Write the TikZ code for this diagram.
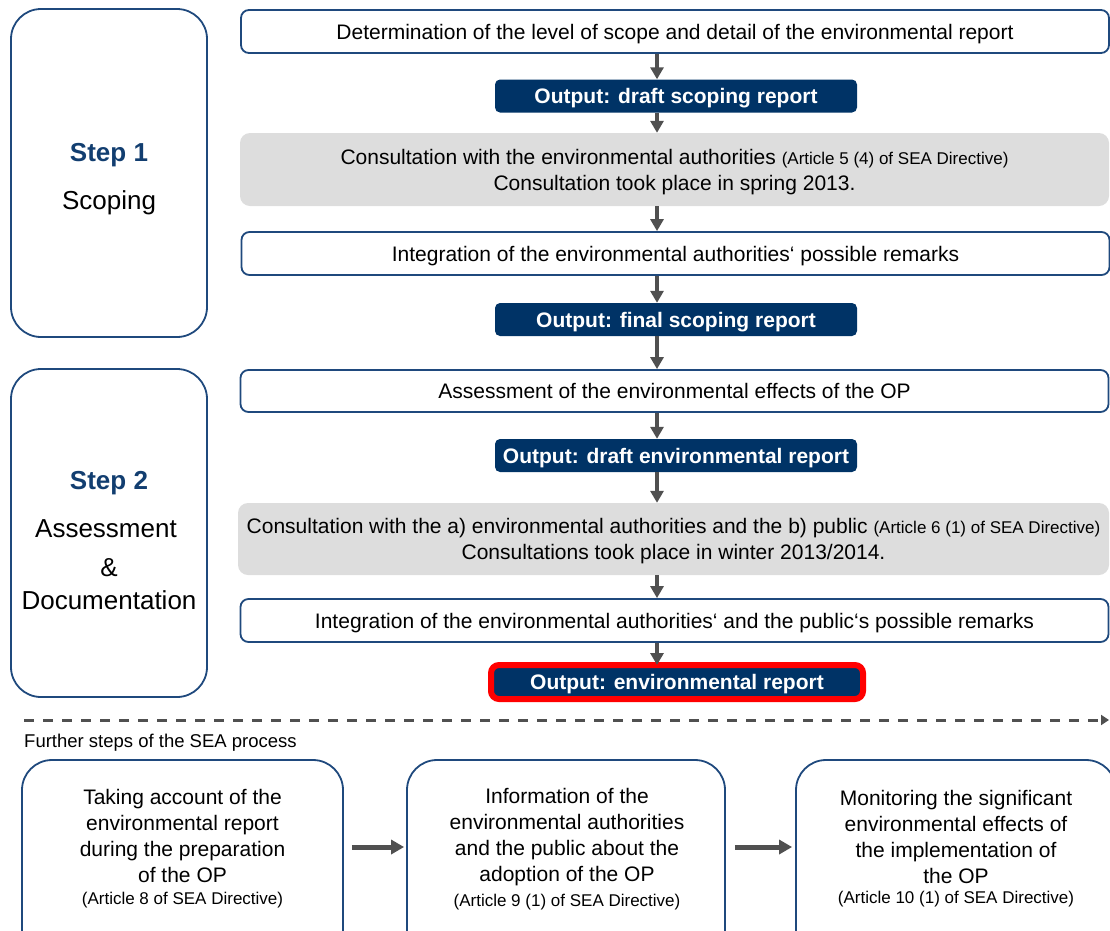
\documentclass[tikz,border=0pt]{standalone}
\usepackage{fontspec}
\setmainfont{Liberation Sans}
\usetikzlibrary{arrows.meta}
\definecolor{navy}{RGB}{0,51,102}
\definecolor{bblue}{RGB}{31,73,125}
\definecolor{stepblue}{RGB}{18,62,112}
\definecolor{agray}{RGB}{80,80,80}
\definecolor{fgray}{RGB}{221,221,221}
\newcommand{\mainf}{\fontsize{21}{26}\selectfont}
\newcommand{\smallf}{\fontsize{17}{26}\selectfont}
\newcommand{\bigf}{\fontsize{26}{30}\selectfont}
\tikzset{
  stepbox/.style={draw=bblue, line width=1.8pt, rounded corners=30pt, minimum width=196pt, minimum height=328pt, inner sep=0pt},
  whitebox/.style={draw=bblue, line width=1.8pt, rounded corners=8pt, minimum width=868pt, minimum height=43pt, inner sep=0pt, text depth=0pt, font=\mainf},
  graybox/.style={fill=fgray, rounded corners=10pt, minimum width=869pt, minimum height=73pt, inner sep=0pt, text depth=0pt, align=center, font=\mainf},
  outbox/.style={fill=navy, rounded corners=5pt, minimum width=362pt, minimum height=33pt, inner sep=0pt, text depth=0pt, text=white, font=\mainf\bfseries},
  lowbox/.style={draw=bblue, line width=1.8pt, rounded corners=30pt, minimum width=320pt, minimum height=200pt, inner sep=0pt},
  lowtext/.style={align=center, font=\mainf, inner sep=0pt},
  smalltext/.style={font=\smallf, inner sep=0pt},
  steptext/.style={font=\bigf, inner sep=0pt, text depth=0pt},
  arr/.style={draw=agray, line width=4pt, -{Triangle[width=13pt,length=12pt]}},
  harr/.style={draw=agray, line width=5pt, -{Triangle[width=14pt,length=13pt]}},
}
\begin{document}
\begin{tikzpicture}[x=1pt,y=-1pt]
\useasboundingbox (0,0) rectangle (1110,930);
\clip (0,0) rectangle (1110,930);
% left step boxes
\node[stepbox] (s1) at (109,173) {};
\node[steptext, font=\bigf\bfseries, text=stepblue] (s1a) at (109,152) {Step 1};
\node[steptext] (s1b) at (109,200) {Scoping};
\node[stepbox] (s2) at (109,533) {};
\node[steptext, font=\bigf\bfseries, text=stepblue] (s2a) at (109,480) {Step 2};
\node[steptext] (s2b) at (106,529) {Assessment};
\node[steptext] (s2c) at (109,567) {\&};
\node[steptext] (s2d) at (109,600) {Documentation};
% right column
\node[whitebox] (b1) at (675,31.5) {Determination of the level of scope and detail of the environmental report};
\node[outbox] (o1) at (676,96) {Output: draft scoping report};
\node[graybox] (c1) at (674.5,169.5) {Consultation with the environmental authorities {\smallf (Article 5 (4) of SEA Directive)}\\Consultation took place in spring 2013.};
\node[whitebox] (b2) at (675.5,253.5) {Integration of the environmental authorities‘ possible remarks};
\node[outbox] (o2) at (676,319.5) {Output: final scoping report};
\node[whitebox, minimum height=42pt] (b3) at (674.5,391) {Assessment of the environmental effects of the OP};
\node[outbox] (o3) at (676,455.5) {Output: draft environmental report};
\node[graybox, minimum width=871pt, minimum height=72pt] (c2) at (673.5,539) {Consultation with the a) environmental authorities and the b) public {\smallf (Article 6 (1) of SEA Directive)}\\Consultations took place in winter 2013/2014.};
\node[whitebox] (b4) at (674.5,620.5) {Integration of the environmental authorities‘ and the public‘s possible remarks};
\node[outbox, draw=red, line width=6pt, rounded corners=8pt, minimum width=372pt, minimum height=34pt] (o4) at (677,682) {Output: environmental report};
% vertical arrows
\coordinate (ax) at (657,0);
\draw[arr] (b1.south -| ax) -- (o1.north -| ax);
\draw[arr] (o1.south -| ax) -- (c1.north -| ax);
\draw[arr] (c1.south -| ax) -- (b2.north -| ax);
\draw[arr] (b2.south -| ax) -- (o2.north -| ax);
\draw[arr] (o2.south -| ax) -- (b3.north -| ax);
\draw[arr] (b3.south -| ax) -- (o3.north -| ax);
\draw[arr] (o3.south -| ax) -- (c2.north -| ax);
\draw[arr] (c2.south -| ax) -- (b4.north -| ax);
\draw[arr] (b4.south -| ax) -- ([yshift=-3pt]o4.north -| ax);
% dashed separator
\coordinate (d1) at (24,720);
\coordinate (d2) at (1109,720);
\draw[agray, line width=3pt, dash pattern=on 10pt off 9pt, -{Triangle[width=10pt,length=8pt]}] (d1) -- (d2);
\node[font=\fontsize{18.5}{22}\selectfont, anchor=west, inner sep=0pt, text depth=0pt] (fs) at (24,741) {Further steps of the SEA process};
% lower boxes
\node[lowbox, minimum width=321pt] (A) at (182.5,860) {};
\node[lowtext] (At) at (182.5,835.5) {Taking account of the\\environmental report\\during the preparation\\of the OP};
\node[smalltext] (As) at (182.5,900) {(Article 8 of SEA Directive)};
\node[lowbox, minimum width=318pt] (B) at (566,860) {};
\node[lowtext] (Bt) at (567,837.5) {Information of the\\environmental authorities\\and the public about the\\adoption of the OP};
\node[smalltext] (Bs) at (567,902) {(Article 9 (1) of SEA Directive)};
\node[lowbox] (C) at (956,860) {};
\node[lowtext] (Ct) at (956,836.5) {Monitoring the significant\\environmental effects of\\the implementation of\\the OP};
\node[smalltext] (Cs) at (956,899) {(Article 10 (1) of SEA Directive)};
\coordinate (ay) at (0,847);
\draw[harr, shorten <=8pt, shorten >=2pt] (A.east |- ay) -- (B.west |- ay);
\draw[harr, shorten <=9pt, shorten >=3pt] (B.east |- ay) -- (C.west |- ay);
\end{tikzpicture}
\end{document}
